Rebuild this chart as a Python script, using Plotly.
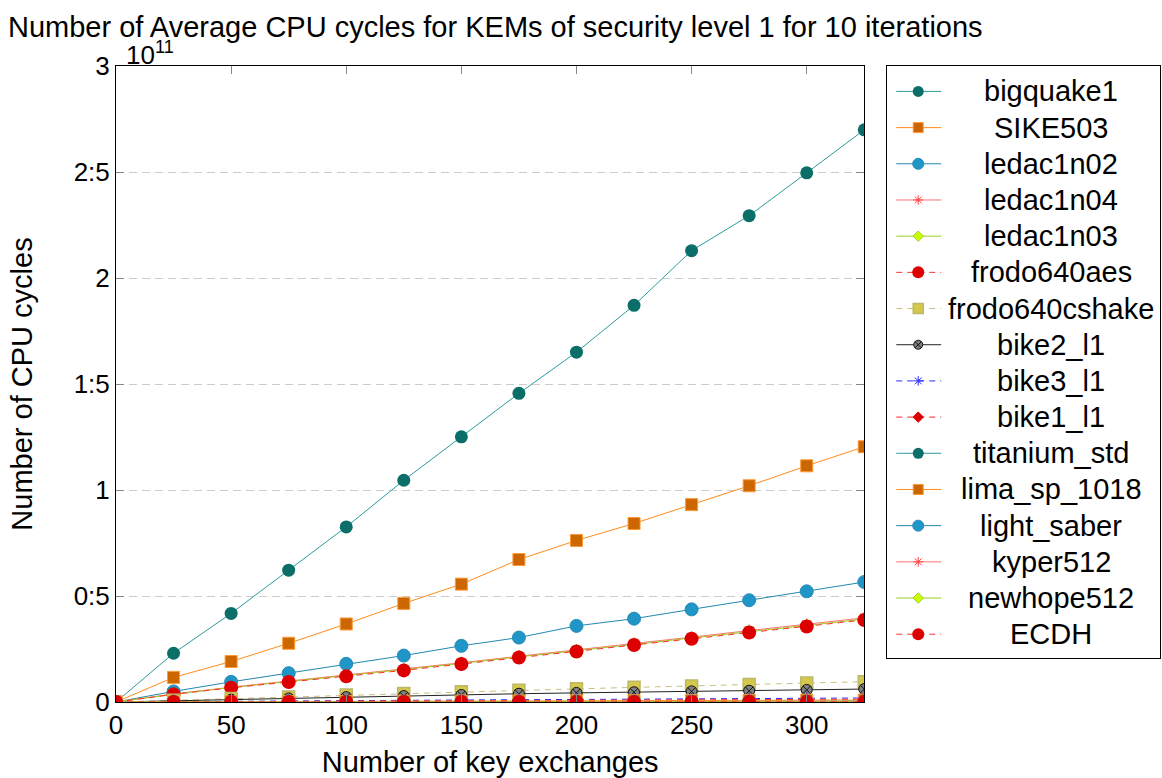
import plotly.graph_objects as go

# Number of key exchanges per run
exchanges = [0, 25, 50, 75, 100, 125, 150, 175, 200, 225, 250, 275, 300, 325]

# Average CPU cycles per KEM, in billions (1e9) of cycles
bigquake1 = [0, 23.0, 41.8, 62.2, 82.6, 104.6, 125.1, 145.6, 165.0, 187.1, 212.9, 229.4, 249.6, 269.9]
sike503 = [0, 11.6, 19.1, 27.7, 36.8, 46.5, 55.6, 67.2, 76.2, 84.2, 93.1, 102.0, 111.4, 120.4]
ledac1n02 = [0, 5.0, 9.5, 13.6, 18.0, 21.9, 26.5, 30.4, 35.9, 39.3, 43.7, 48.0, 52.2, 56.6]
ledac1n04 = [0, 3.8, 7.0, 9.8, 12.6, 15.4, 18.5, 21.6, 24.5, 27.6, 30.6, 33.7, 36.6, 39.7]
ledac1n03 = [0, 3.7, 6.8, 9.6, 12.3, 15.1, 18.2, 21.3, 24.1, 27.2, 30.2, 33.2, 36.0, 39.1]
frodo640aes = [0, 3.6, 6.7, 9.4, 12.1, 14.9, 17.9, 21.0, 23.8, 26.9, 29.8, 32.8, 35.6, 38.7]
frodo640cshake = [0, 0.8, 1.6, 2.4, 3.3, 4.0, 4.8, 5.5, 6.2, 6.9, 7.6, 8.3, 9.0, 9.6]
bike2_l1 = [0, 0.6, 1.1, 1.7, 2.3, 2.8, 3.3, 3.9, 4.3, 4.6, 5.0, 5.3, 5.7, 6.1]
bike3_l1 = [0, 0.2, 0.3, 0.5, 0.6, 0.8, 0.9, 1.1, 1.2, 1.4, 1.5, 1.7, 1.8, 1.9]
bike1_l1 = [0, 0.1, 0.2, 0.3, 0.4, 0.5, 0.6, 0.7, 0.8, 0.9, 1.0, 1.1, 1.2, 1.3]
titanium_std = [0, 0.03, 0.06, 0.09, 0.12, 0.15, 0.19, 0.22, 0.25, 0.28, 0.31, 0.34, 0.37, 0.40]
lima_sp_1018 = [0, 0.07, 0.14, 0.21, 0.28, 0.35, 0.42, 0.49, 0.56, 0.63, 0.70, 0.77, 0.84, 0.91]
light_saber = [0, 0.02, 0.05, 0.07, 0.10, 0.12, 0.14, 0.17, 0.19, 0.22, 0.24, 0.26, 0.29, 0.31]
kyper512 = [0, 0.01, 0.02, 0.03, 0.04, 0.05, 0.06, 0.07, 0.08, 0.09, 0.10, 0.11, 0.12, 0.13]
newhope512 = [0, 0.01, 0.02, 0.02, 0.03, 0.04, 0.05, 0.06, 0.06, 0.07, 0.08, 0.09, 0.10, 0.10]
ecdh = [0, 0.01, 0.01, 0.02, 0.02, 0.03, 0.03, 0.04, 0.04, 0.05, 0.05, 0.06, 0.06, 0.07]

x_ticks = [0, 50, 100, 150, 200, 250, 300]
y_tickvals = [0, 0.5, 1, 1.5, 2, 2.5, 3]
y_ticktext = ["0", "0:5", "1", "1:5", "2", "2:5", "3"]

UNIT = 1e9  # values above are stored in billions of cycles

# line colour, dash, marker symbol, size, fill, marker outline colour, outline width
TEAL = ("#2b9c9c", "solid", "circle", 13, "#0b6e69", "#0b6e69", 0)
ORANGE = ("#ff8c1a", "solid", "square", 12, "#cc6600", "#ff9933", 1)
BLUE = ("#2288b0", "solid", "circle", 13, "#1e96c8", "#2a8ab5", 1)
PINK = ("#ff7070", "solid", "asterisk-open", 10, "#ff4040", "#ff4040", 1)
LIME = ("#a0cc22", "solid", "diamond", 10, "#ccff00", "#99cc33", 1)
RED = ("#ff3030", "6px,5px", "circle", 14, "#dd0000", "#ff3333", 0)

series = [
    ("bigquake1", bigquake1) + TEAL,
    ("SIKE503", sike503) + ORANGE,
    ("ledac1n02", ledac1n02) + BLUE,
    ("ledac1n04", ledac1n04) + PINK,
    ("ledac1n03", ledac1n03) + LIME,
    ("frodo640aes", frodo640aes) + RED,
    ("frodo640cshake", frodo640cshake, "#c8c080", "6px,5px", "square", 12, "#d4c94a", "#bdb76b", 1.5),
    ("bike2_l1", bike2_l1, "#222222", "solid", "circle-x", 11, "#808080", "#111111", 1),
    ("bike3_l1", bike3_l1, "#2a2aff", "6px,5px", "asterisk-open", 10, "#2a2aff", "#2a2aff", 1),
    ("bike1_l1", bike1_l1, "#ff2020", "6px,5px", "diamond", 9, "#dd0000", "#dd0000", 1),
    ("titanium_std", titanium_std) + TEAL,
    ("lima_sp_1018", lima_sp_1018) + ORANGE,
    ("light_saber", light_saber) + BLUE,
    ("kyper512", kyper512) + PINK,
    ("newhope512", newhope512) + LIME,
    ("ECDH", ecdh) + RED,
]

W, H = 1162, 778
ML, MR, MT, MB = 116, 1, 66, 74
plot_w = W - ML - MR
plot_h = H - MT - MB
main_right = 865
legend_left, legend_bottom = 888, 660

FONT = "Liberation Sans, Arial, sans-serif"

fig = go.Figure()

for name, vals, lcol, dash, sym, size, fill, mline, mlw in series:
    fig.add_trace(go.Scatter(
        x=exchanges, y=[v * UNIT for v in vals], name=name, mode="lines+markers",
        line=dict(color=lcol, width=1, dash=dash),
        marker=dict(symbol=sym, size=size, color=fill, opacity=1,
                    line=dict(color=mline, width=mlw)),
        showlegend=False, xaxis="x", yaxis="y",
    ))

# Boxed legend drawn on its own axes (units are pixels from the box's top-left corner)
row0, row_step = 25.5, 36.3
seg_x0, seg_mid, seg_x1 = 9, 31, 54
for i, (name, vals, lcol, dash, sym, size, fill, mline, mlw) in enumerate(series):
    yy = row0 + row_step * i
    fig.add_trace(go.Scatter(
        x=[seg_x0, seg_x1], y=[yy, yy], mode="lines", hoverinfo="skip",
        line=dict(color=lcol, width=1, dash=dash),
        showlegend=False, xaxis="x2", yaxis="y2",
    ))
    fig.add_trace(go.Scatter(
        x=[seg_mid], y=[yy], mode="markers", hoverinfo="skip",
        marker=dict(symbol=sym, size=max(size - 2, 8), color=fill, opacity=1,
                    line=dict(color=mline, width=mlw)),
        showlegend=False, xaxis="x2", yaxis="y2",
    ))
    fig.add_annotation(x=164, y=yy, xref="x2", yref="y2", text=name, showarrow=False,
                       xanchor="center", yanchor="middle",
                       font=dict(family=FONT, size=29, color="black"))

# Power-of-ten multiplier above the y axis
fig.add_annotation(x=(124 - ML) / plot_w, y=1, xref="paper", yref="paper",
                   text="10<sup>11</sup>", showarrow=False, xanchor="left", yanchor="bottom",
                   yshift=-6, font=dict(family=FONT, size=26, color="black"))

fig.update_layout(
    width=W, height=H,
    margin=dict(l=ML, r=MR, t=MT, b=MB),
    paper_bgcolor="white", plot_bgcolor="white",
    font=dict(family=FONT, color="black"),
    title=dict(text="Number of Average CPU cycles for KEMs of security level 1 for 10 iterations",
               x=8 / W, xanchor="left", xref="container",
               y=1 - 27 / H, yanchor="middle", yref="container",
               font=dict(family=FONT, size=29, color="black")),
    xaxis=dict(
        domain=[0, (main_right - ML) / plot_w], range=[0, 325],
        tickvals=x_ticks, ticks="inside", ticklen=8, tickcolor="#888888",
        showline=True, linecolor="black", linewidth=1, mirror="ticks",
        showgrid=False, zeroline=False,
        tickfont=dict(family=FONT, size=26, color="black"),
        title=dict(text="Number of key exchanges", font=dict(family=FONT, size=29, color="black"),
                   standoff=16),
    ),
    yaxis=dict(
        domain=[0, 1], range=[0, 3 * 1e11],
        tickvals=[v * 1e11 for v in y_tickvals], ticktext=y_ticktext,
        ticks="inside", ticklen=8, tickcolor="#888888",
        showline=True, linecolor="black", linewidth=1, mirror="ticks",
        showgrid=True, gridcolor="#cccccc", griddash="8px,5px", gridwidth=1,
        zeroline=False,
        tickfont=dict(family=FONT, size=26, color="black"),
        title=dict(text="Number of CPU cycles", font=dict(family=FONT, size=29, color="black"),
                   standoff=32),
    ),
    xaxis2=dict(
        domain=[(legend_left - ML) / plot_w, 1], range=[0, W - MR - legend_left],
        showline=True, linecolor="black", linewidth=1, mirror=True,
        showgrid=False, zeroline=False, showticklabels=False, ticks="",
        anchor="y2", fixedrange=True,
    ),
    yaxis2=dict(
        domain=[(H - MB - legend_bottom) / plot_h, 1], range=[legend_bottom - MT, 0],
        showline=True, linecolor="black", linewidth=1, mirror=True,
        showgrid=False, zeroline=False, showticklabels=False, ticks="",
        anchor="x2", fixedrange=True,
    ),
)

fig.write_html("out.html")
